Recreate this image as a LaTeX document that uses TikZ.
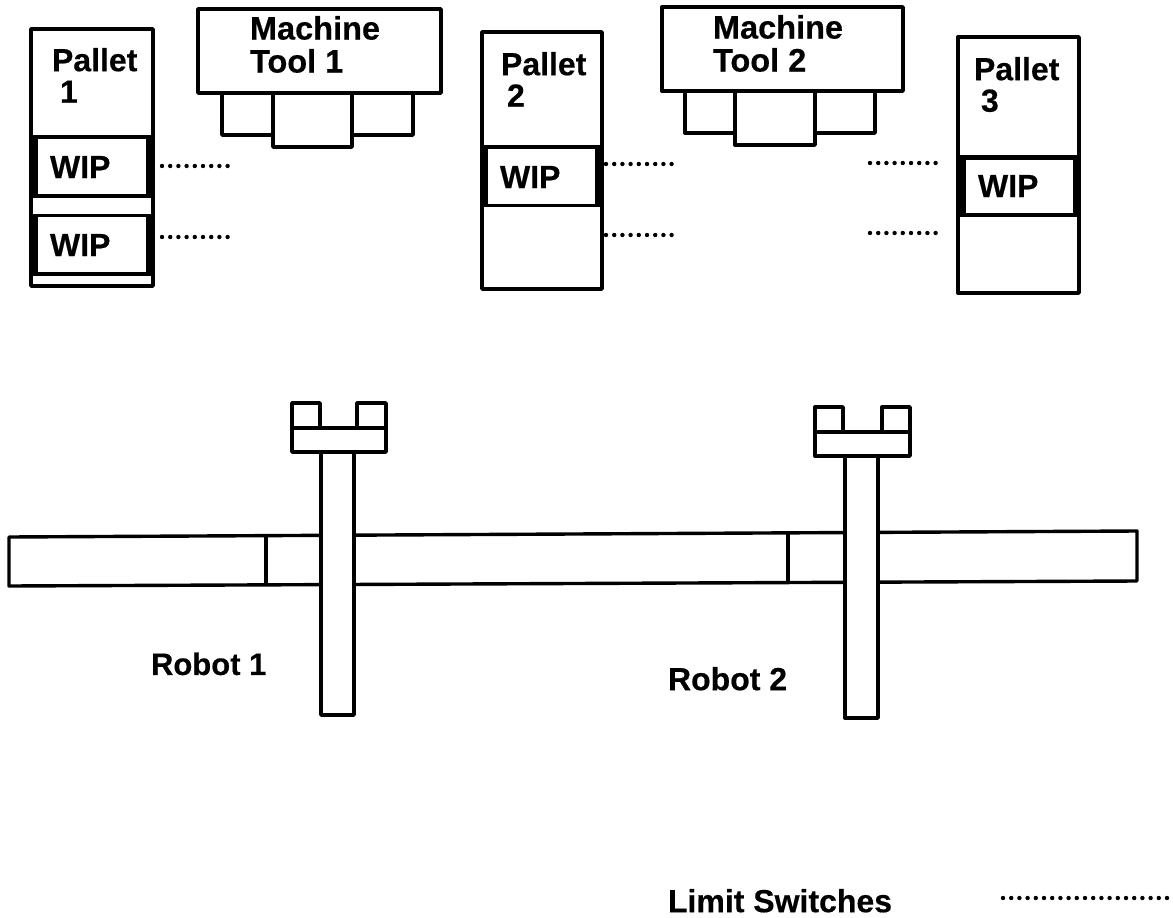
\documentclass[tikz,border=0pt]{standalone}
\usepackage{fontspec}
\setmainfont[BoldFeatures={FakeBold=0.4}]{Liberation Sans}
\tikzset{
  part/.style={draw=black,fill=white,line width=3.4pt,line join=round},
  band/.style={fill=black,draw=none},
  hole/.style={fill=white,draw=none},
  lbl/.style={anchor=north west,inner sep=0pt,outer sep=0pt,align=left,text=black,
    font=\fontsize{32}{31.5}\selectfont\bfseries},
  mlbl/.style={lbl,font=\fontsize{32.5}{33}\selectfont\bfseries},
  rlbl/.style={lbl,font=\fontsize{31}{32}\selectfont\bfseries},
  swline/.style={line width=4.4pt,line cap=round,dash pattern=on 0pt off 8.2pt,black}
}
\begin{document}
\begin{tikzpicture}[x=1pt,y=-1pt]
\useasboundingbox[fill=white] (0,0) rectangle (1173,918);
% Pallet 1
\draw[part] (31,29) rectangle (153,286);
\fill[band] (31,135) rectangle (153,198);
\fill[hole] (38,138.5) rectangle (146,194);
\fill[band] (31,214) rectangle (153,276);
\fill[hole] (38,217) rectangle (146,272);
\node[lbl] (p1) at (52,48) {Pallet\\\hspace*{8pt}1};
\node[lbl] (w1a) at (50,156) {WIP};
\node[lbl] (w1b) at (50,234) {WIP};
% Machine 1
\draw[part] (222,85) rectangle (413,135);
\draw[part] (273,85) rectangle (352,147);
\draw[part] (198,9) rectangle (441,93);
\node[lbl,mlbl] (m1) at (250,16) {Machine\\Tool 1};
% Pallet 2
\draw[part] (482,32) rectangle (602,289);
\fill[band] (482,145) rectangle (602,207);
\fill[hole] (488,148.5) rectangle (595,204);
\node[lbl] (p2) at (501,52) {Pallet\\\hspace*{6pt}2};
\node[lbl] (w2) at (500,166) {WIP};
% Machine 2
\draw[part] (685,85) rectangle (875,133);
\draw[part] (735,85) rectangle (815,145);
\draw[part] (662,7) rectangle (903,91);
\node[lbl,mlbl] (m2) at (713,15) {Machine\\Tool 2};
% Pallet 3
\draw[part] (958,37) rectangle (1079,293);
\fill[band] (958,155) rectangle (1079,217);
\fill[hole] (966,159.5) rectangle (1073,213);
\node[lbl] (p3) at (974,57) {Pallet\\\hspace*{7pt}3};
\node[lbl] (w3) at (978,175) {WIP};
% Rail
\draw[part] (9,537) -- (1137,531) -- (1137,581) -- (9,586) -- cycle;
\draw[part] (266,536) -- (266,585);
\draw[part] (788,534) -- (788,583);
% Robot 1
\draw[part] (292,403) rectangle (320,430);
\draw[part] (357,403) rectangle (386,430);
\draw[part] (321,450) rectangle (354,715);
\draw[part] (292,428) rectangle (386,452);
\node[lbl,rlbl] (r1) at (151,652.5) {Robot 1};
% Robot 2
\draw[part] (815,407) rectangle (843,434);
\draw[part] (882,407) rectangle (910,434);
\draw[part] (845,454) rectangle (878,718);
\draw[part] (815,432) rectangle (910,456);
\node[lbl] (r2) at (668,667) {Robot 2};
% Limit switches
\node[lbl] (ls) at (668,889) {Limit Switches};
\coordinate (a1) at (162,166); \coordinate (a2) at (229,166);
\coordinate (b1) at (162,237); \coordinate (b2) at (229,237);
\coordinate (c1) at (606,164); \coordinate (c2) at (672,164);
\coordinate (d1) at (606,235); \coordinate (d2) at (672,235);
\coordinate (e1) at (870,163); \coordinate (e2) at (936,163);
\coordinate (f1) at (870,233); \coordinate (f2) at (936,233);
\coordinate (g1) at (1003,898); \coordinate (g2) at (1167,898);
\draw[swline] (a1) -- (a2);
\draw[swline] (b1) -- (b2);
\draw[swline] (c1) -- (c2);
\draw[swline] (d1) -- (d2);
\draw[swline] (e1) -- (e2);
\draw[swline] (f1) -- (f2);
\draw[swline] (g1) -- (g2);
\end{tikzpicture}
\end{document}
